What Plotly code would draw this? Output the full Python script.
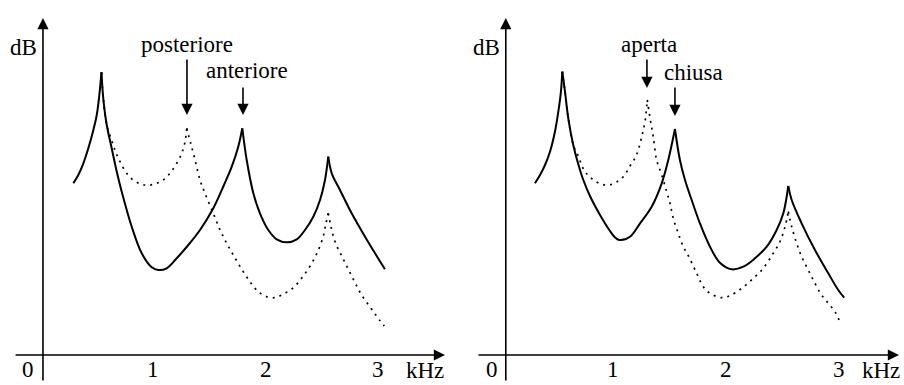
import plotly.graph_objects as go

# ---------------- data (kHz, dB) ----------------
# Left panel: solid = anteriore, dotted = posteriore
left_solid_x = [0.290, 0.334, 0.379, 0.423, 0.468, 0.498, 0.521, 0.540, 0.556, 0.587, 0.631, 0.676,
                0.720, 0.809, 0.898, 0.987,
                1.045, 1.120, 1.209, 1.312, 1.416, 1.534, 1.629, 1.698, 1.756, 1.792, 1.831, 1.890,
                1.949, 2.023, 2.098, 2.187, 2.276, 2.349, 2.423, 2.483, 2.527, 2.556, 2.587, 2.660,
                2.764, 2.883, 2.972, 3.060]
left_solid_y = [17.17, 18.0, 19.17, 20.67, 22.5, 24.0, 26.0, 28.27, 25.67, 23.0, 20.67, 18.33,
                16.33, 12.83, 10.17, 8.77,
                8.5, 8.67, 9.67, 11.0, 12.5, 14.67, 17.0, 18.83, 20.83, 22.67, 19.5, 16.17,
                14.17, 12.5, 11.57, 11.27, 11.57, 12.5, 13.83, 15.5, 17.5, 19.83, 18.17, 16.5,
                14.17, 11.83, 10.17, 8.57]

left_dot_x = [0.540, 0.556, 0.587, 0.635, 0.665, 0.705, 0.764, 0.829, 0.898, 0.956, 1.031, 1.090, 1.149,
              1.209, 1.253, 1.283, 1.298, 1.333, 1.372, 1.416, 1.460, 1.534, 1.594, 1.653, 1.712,
              1.787, 1.860, 1.934, 2.009, 2.076, 2.142, 2.245, 2.334, 2.409, 2.468, 2.512, 2.536,
              2.556, 2.580, 2.616, 2.676, 2.734, 2.794, 2.853, 2.942, 3.016, 3.054]
left_dot_y = [28.27, 25.67, 23.0, 21.33, 20.33, 19.33, 18.17, 17.43, 17.07, 16.97, 17.17, 17.5, 18.17,
              19.17, 20.17, 21.33, 22.67, 21.17, 19.5, 17.5, 16.17, 14.17, 12.5, 11.17, 10.0,
              8.57, 7.33, 6.33, 5.83, 5.73, 6.0, 6.73, 7.9, 9.17, 10.5, 11.9, 13.17,
              14.17, 12.83, 11.33, 9.9, 8.57, 7.23, 6.0, 4.57, 3.43, 2.9]

# Right panel: solid = chiusa, dotted = aperta
right_solid_x = [0.305, 0.350, 0.394, 0.438, 0.482, 0.512, 0.535, 0.547, 0.571, 0.600, 0.644, 0.688,
                 0.730, 0.792, 0.881, 0.969, 1.010,
                 1.051, 1.146, 1.235, 1.338, 1.427, 1.485, 1.544, 1.588, 1.633, 1.692, 1.765, 1.854,
                 1.942, 2.046, 2.149, 2.252, 2.356, 2.444, 2.503, 2.547, 2.577, 2.665, 2.783, 2.901,
                 2.989, 3.042]
right_solid_y = [17.17, 18.0, 19.0, 20.33, 22.33, 24.33, 26.33, 28.33, 26.33, 23.67, 21.0, 19.1,
                 17.6, 15.9, 14.0, 12.4, 11.8,
                 11.5, 11.83, 13.17, 14.83, 17.17, 19.5, 22.6, 19.5, 17.5, 15.5, 13.17, 10.83,
                 9.23, 8.57, 8.83, 9.67, 10.83, 12.5, 14.17, 16.9, 15.5, 13.17, 10.5, 8.17,
                 6.5, 5.73]

right_dot_x = [0.547, 0.571, 0.600, 0.644, 0.688, 0.718, 0.750, 0.792, 0.836, 0.896, 0.963, 1.028, 1.087,
               1.146, 1.190, 1.219, 1.250, 1.279, 1.299, 1.329, 1.352, 1.382, 1.427, 1.471, 1.500, 1.529,
               1.573, 1.618, 1.659, 1.736, 1.795, 1.854, 1.958, 2.031, 2.135, 2.237, 2.326, 2.414,
               2.473, 2.518, 2.547, 2.577, 2.621, 2.665, 2.724, 2.783, 2.842, 2.901, 2.960, 3.004]
right_dot_y = [28.33, 26.33, 23.67, 21.0, 19.9, 19.0, 18.3, 17.8, 17.4, 17.07, 17.0, 17.3, 17.83,
               18.9, 19.67, 20.5, 21.83, 23.33, 25.5, 23.33, 21.83, 19.5, 18.0, 16.33, 15.17, 13.67,
               12.17, 10.83, 10.0, 8.17, 6.83, 6.17, 5.73, 5.93, 6.67, 7.67, 8.67, 10.17,
               11.33, 12.83, 14.33, 12.83, 11.17, 9.83, 8.5, 7.17, 6.0, 5.17, 4.33, 3.33]

tick_vals = [1, 2, 3]
tick_labels = ["1", "2", "3"]

left_labels = ["posteriore", "anteriore"]
left_label_x = [1.300, 1.798]
right_labels = ["aperta", "chiusa"]
right_label_x = [1.296, 1.544]

# ---------------- figure ----------------
FONT = "Liberation Serif, Times New Roman, DejaVu Serif, serif"
FS = 23
fig = go.Figure()

line_solid = dict(color="black", width=2)
line_dot = dict(color="black", width=1.7, dash="2px,5px")


def peak_segments(xs, ys):
    """Split a curve at its local maxima (the resonance cusps)."""
    cuts = [0]
    for i in range(1, len(ys) - 1):
        if ys[i] > ys[i - 1] and ys[i] > ys[i + 1]:
            cuts.append(i)
    cuts.append(len(ys) - 1)
    return [(xs[a:b + 1], ys[a:b + 1]) for a, b in zip(cuts[:-1], cuts[1:])]


def add_curve(xs, ys, line, xa, ya):
    for sx, sy in peak_segments(xs, ys):
        fig.add_trace(go.Scatter(x=sx, y=sy, mode="lines",
                                 line=dict(shape="spline", smoothing=1.0, **line),
                                 xaxis=xa, yaxis=ya, hoverinfo="skip"))


add_curve(left_solid_x, left_solid_y, line_solid, "x", "y")
add_curve(left_dot_x, left_dot_y, line_dot, "x", "y")
add_curve(right_solid_x, right_solid_y, line_solid, "x2", "y2")
add_curve(right_dot_x, right_dot_y, line_dot, "x2", "y2")

ann = []


def arrow(xr, yr, x, y, ax, ay, head=2, size=1.4, width=1.6):
    ann.append(dict(xref=xr, yref=yr, axref=xr, ayref=yr, x=x, y=y, ax=ax, ay=ay, text="",
                    showarrow=True, arrowhead=head, arrowsize=size, arrowwidth=width,
                    arrowcolor="black", standoff=0, startstandoff=0))


def label(xr, yr, x, y, text, xanchor="center"):
    ann.append(dict(xref=xr, yref=yr, x=x, y=y, text=text, showarrow=False,
                    xanchor=xanchor, yanchor="middle",
                    font=dict(family=FONT, size=FS, color="black")))


panels = [
    ("x", "y", 0.02, -0.237, 3.594, -0.113, -0.153, 3.416),
    ("x2", "y2", 0.047, -0.208, 3.527, -0.075, -0.128, 3.367),
]
for xr, yr, yax_x, xa0, xa1, zero_x, db_x, khz_x in panels:
    arrow(xr, yr, xa1, 0, xa0, 0)
    arrow(xr, yr, yax_x, 33.7, yax_x, -2.7)
    label(xr, yr, zero_x, -1.4, "0")
    for tv, tl in zip(tick_vals, tick_labels):
        label(xr, yr, tv, -1.4, tl)
    label(xr, yr, khz_x, -1.5, "kHz")
    label(xr, yr, db_x, 30.8, "dB")

# left annotations
label("x", "y", 1.300, 31.1, left_labels[0])
arrow("x", "y", left_label_x[0], 24.0, left_label_x[0], 29.7)
label("x", "y", 1.834, 28.5, left_labels[1])
arrow("x", "y", left_label_x[1], 24.0, left_label_x[1], 26.9)
# right annotations
label("x2", "y2", 1.314, 31.1, right_labels[0])
arrow("x2", "y2", right_label_x[0], 26.7, right_label_x[0], 29.7)
label("x2", "y2", 1.708, 28.3, right_labels[1])
arrow("x2", "y2", right_label_x[1], 23.9, right_label_x[1], 26.9)

ax_common = dict(visible=False, showgrid=False, zeroline=False, fixedrange=True)
fig.update_layout(
    width=904, height=385,
    margin=dict(l=0, r=0, t=0, b=0),
    paper_bgcolor="white", plot_bgcolor="white",
    showlegend=False,
    font=dict(family=FONT),
    xaxis=dict(domain=[0, 0.5], range=[-0.362, 3.656], **ax_common),
    yaxis=dict(domain=[0, 1], range=[-3.0, 35.5], **ax_common),
    xaxis2=dict(domain=[0.5, 1], range=[-0.429, 3.571], anchor="y2", **ax_common),
    yaxis2=dict(domain=[0, 1], range=[-3.0, 35.5], anchor="x2", **ax_common),
    annotations=ann,
)

fig.write_html("out.html")
